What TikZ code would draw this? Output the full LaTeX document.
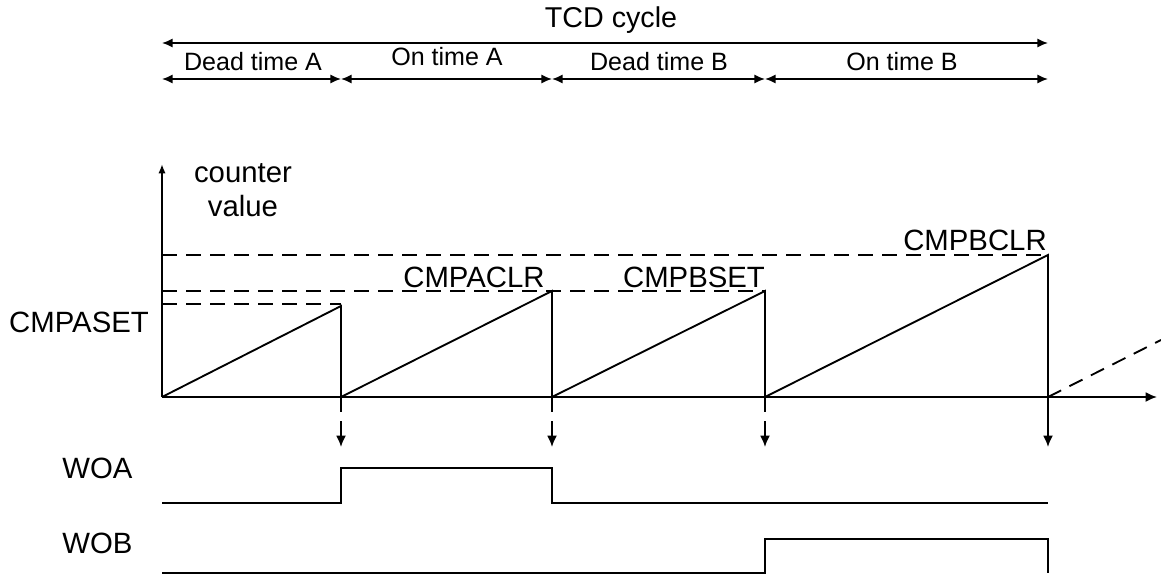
\documentclass[tikz,border=0pt]{standalone}
\usepackage{fontspec}
\setmainfont{Liberation Sans}
\usetikzlibrary{arrows.meta}
\begin{document}
\begin{tikzpicture}[x=0.75pt, y=-0.75pt, line width=1.4pt,
  font=\fontsize{22}{26}\selectfont,
  tip/.style={-{Latex[length=8.5pt,width=7.5pt]}},
  span/.style={{Latex[length=8pt,width=7pt]}-{Latex[length=8pt,width=7pt]}},
  tempo/.style={anchor=base, font=\fontsize{18.8}{22}\selectfont},
  soglia/.style={dash pattern=on 11pt off 7pt}]

\useasboundingbox (0,0) rectangle (1161,575);

% istanti di reset
\coordinate (t0) at (162,397);
\coordinate (t1) at (341,397);
\coordinate (t2) at (552,397);
\coordinate (t3) at (765,397);
\coordinate (t4) at (1048,397);

% ciclo TCD
\node[anchor=base, font=\fontsize{21.5}{25}\selectfont] (tcd) at (611,27) {TCD cycle};
\draw[span] (t0 |- 0,43) -- (t4 |- 0,43);
\foreach \a/\b in {t0/t1, t1/t2, t2/t3, t3/t4}
  \draw[span] (\a |- 0,79) -- (\b |- 0,79);
\node[tempo] (dta) at (253,70) {Dead time A};
\node[tempo] (ota) at (447,65) {On time A};
\node[tempo] (dtb) at (659,70) {Dead time B};
\node[tempo] (otb) at (902,70) {On time B};

% assi
\draw[-{Latex[length=7pt,width=5.5pt]}] (t0) -- (162,164);
\draw[tip] (t0) -- (1157,397);
\node[anchor=base] (cnt) at (243,182) {counter};
\node[anchor=base] (val) at (243,216) {value};

% soglie
\draw[soglia] (162,255) -- (1048,255);
\draw[soglia] (162,291) -- (765,291);
\draw[soglia] (162,304) -- (341,304);
\node[anchor=base] (cas) at (79,332) {CMPASET};
\node[anchor=base] (cac) at (474,287) {CMPACLR};
\node[anchor=base] (cbs) at (694,287) {CMPBSET};
\node[anchor=base] (cbc) at (975,250) {CMPBCLR};

% contatore
\draw (t0) -- (341,306) -- (t1) -- (552,291) -- (t2) -- (765,291) -- (t3) -- (1048,255) -- (t4);
\draw[tip] (1048,255) -- (1048,447);
\draw[soglia] (t4) -- (1161,340);
\foreach \t in {t1, t2, t3}
  \draw[soglia, tip] (\t) -- ++(0,50);

% uscite
\node[anchor=base west] (woa) at (57,478) {WOA};
\node[anchor=base west] (wob) at (57,553) {WOB};
\draw (162,503) -- (341,503) -- (341,468) -- (552,468) -- (552,503) -- (1048,503);
\draw (162,573) -- (765,573) -- (765,539) -- (1048,539) -- (1048,573);

\end{tikzpicture}
\end{document}
